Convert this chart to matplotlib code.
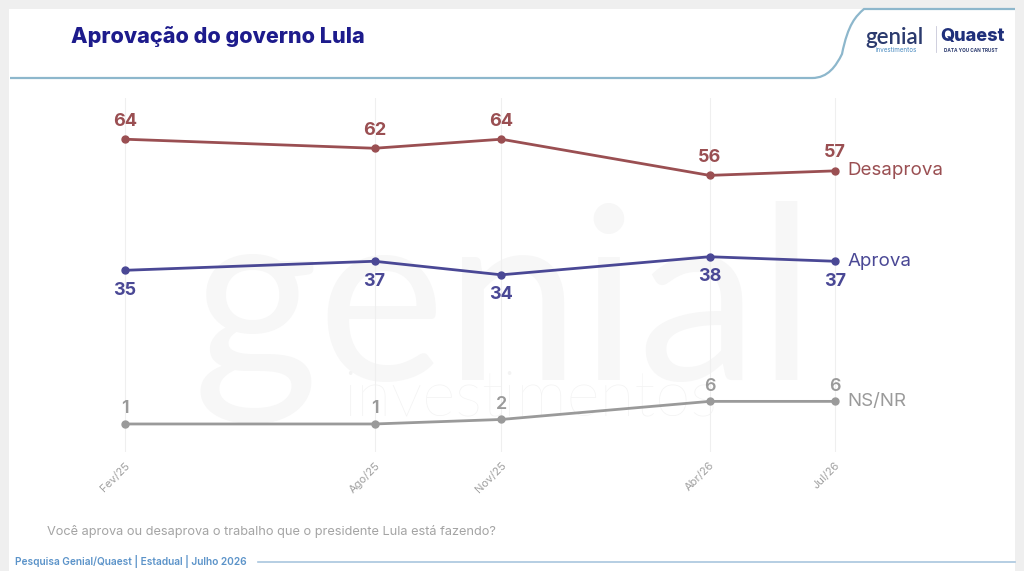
import numpy as np
import pandas as pd
import matplotlib
matplotlib.use("Agg")
import matplotlib.pyplot as plt
import matplotlib.dates as mdates
from matplotlib.path import Path
from matplotlib.patches import PathPatch, Rectangle

# --- data -----------------------------------------------------------------
dates = ["2025-02-01", "2025-08-01", "2025-11-01", "2026-04-01", "2026-07-01"]
tick_labels = ["Fev/25", "Ago/25", "Nov/25", "Abr/26", "Jul/26"]
desaprova = [64, 62, 64, 56, 57]
aprova = [35, 37, 34, 38, 37]
nsnr = [1, 1, 2, 6, 6]

c_des = "#9a4f52"
c_apr = "#4a4895"
c_ns = "#9a9a9a"
navy = "#1d1b8c"

plt.rcParams["font.family"] = ["Inter", "DejaVu Sans"]

W, H = 1024, 571
fig = plt.figure(figsize=(W / 100, H / 100), dpi=100)
fig.patch.set_facecolor("#efefef")


def fx(px):
    return px / W


def fy(py):
    return 1 - py / H


# white panel
fig.add_artist(Rectangle((fx(9), 0), fx(1015) - fx(9), fy(9), transform=fig.transFigure,
                         facecolor="white", edgecolor="none", zorder=-3))

# header line with curve
verts = [(fx(10), fy(78)), (fx(812), fy(78)), (fx(828), fy(78)), (fx(836), fy(66)),
         (fx(842), fy(54)), (fx(848), fy(24)), (fx(856), fy(16)), (fx(864), fy(9)),
         (fx(878), fy(9)), (fx(1015), fy(9))]
codes = [Path.MOVETO, Path.LINETO, Path.CURVE4, Path.CURVE4, Path.CURVE4,
         Path.CURVE4, Path.CURVE4, Path.CURVE4, Path.LINETO, Path.LINETO]
fig.add_artist(PathPatch(Path(verts, codes), transform=fig.transFigure, facecolor="none",
                         edgecolor="#8db7cc", lw=1.6, zorder=2))

fig.text(fx(71), fy(37), "Aprovação do governo Lula", fontsize=15.5, fontweight="heavy",
         color=navy, va="center", ha="left")

# logos (text approximations)
fig.text(fx(865), fy(37), "genial", fontsize=16, fontweight="semibold", color="#2b3a6e",
         va="center", ha="left", family=["Lato", "DejaVu Sans"])
fig.text(fx(876), fy(50), "investimentos", fontsize=4.5, color="#4a8bc0", va="center", ha="left")
fig.add_artist(plt.Line2D([fx(936), fx(936)], [fy(26), fy(52)], transform=fig.transFigure,
                          color="#c8c8d8", lw=0.6))
fig.text(fx(940), fy(37), "Quaest", fontsize=13, fontweight="heavy", color="#1f2f7a",
         va="center", ha="left")
fig.text(fx(944), fy(50), "DATA YOU CAN TRUST", fontsize=3.4, fontweight="bold",
         color="#2b3a6e", va="center", ha="left")

# watermark
fig.text(fx(192), fy(380), "genial", fontsize=174, color="#f7f7f7", va="baseline",
         ha="left", zorder=-2, family=["Lato", "DejaVu Sans"])
fig.text(fx(343), fy(415), "investimentos", fontsize=46, color="#f3f3f3", va="baseline",
         ha="left", zorder=-2, fontweight="light", family=["Lato", "DejaVu Sans"])

# --- chart ----------------------------------------------------------------
x = pd.to_datetime(dates)
xn = mdates.date2num(x)
px_per_day = (835 - 125) / (xn[-1] - xn[0])
ax_left, ax_right, ax_top, ax_bot = 60, 960, 98, 452
ax = fig.add_axes([fx(ax_left), fy(ax_bot), fx(ax_right - ax_left), (ax_bot - ax_top) / H])
ax.set_facecolor("none")
ax.set_xlim(xn[0] - (125 - ax_left) / px_per_day, xn[0] + (ax_right - 125) / px_per_day)
ppu = 4.52
zero_px = 428.5
ax.set_ylim((zero_px - ax_bot) / ppu, (zero_px - ax_top) / ppu)

for xi in xn:
    ax.axvline(xi, color="#efefef", lw=0.8, zorder=1)

series = [
    (desaprova, c_des, "Desaprova", 13, "bold"),
    (aprova, c_apr, "Aprova", -14.5, "bold"),
    (nsnr, c_ns, "NS/NR", 11, "semibold"),
]
for vals, col, name, off, wt in series:
    ax.plot(xn, vals, color=col, lw=2, marker="o", ms=5, zorder=3)
    for xi, v in zip(xn, vals):
        ax.annotate(str(v), (xi, v), xytext=(0, off), textcoords="offset points",
                    ha="center", va="center", fontsize=13, fontweight=wt, color=col)
    ax.annotate(name, (xn[-1], vals[-1]), xytext=(9, 0), textcoords="offset points",
                ha="left", va="center", fontsize=13.5, color=col)

ax.set_xticks(xn)
ax.set_xticklabels(tick_labels, rotation=45, ha="right", rotation_mode="anchor",
                   fontsize=8, color="#a0a0a0")
ax.tick_params(axis="x", length=0, pad=6)
ax.set_yticks([])
for s in ax.spines.values():
    s.set_visible(False)

# footer
fig.text(fx(47), fy(531), "Você aprova ou desaprova o trabalho que o presidente Lula está fazendo?",
         fontsize=9.2, color="#a4a4a4", va="center", ha="left")
fig.text(fx(15), fy(562), "Pesquisa Genial/Quaest | Estadual | Julho 2026", fontsize=7.3,
         fontweight="semibold", color="#5b93c9", va="center", ha="left")
fig.add_artist(plt.Line2D([fx(258), fx(1015)], [fy(562), fy(562)], transform=fig.transFigure,
                          color="#a9c6de", lw=1.2))

fig.savefig("out.png", dpi=100)
